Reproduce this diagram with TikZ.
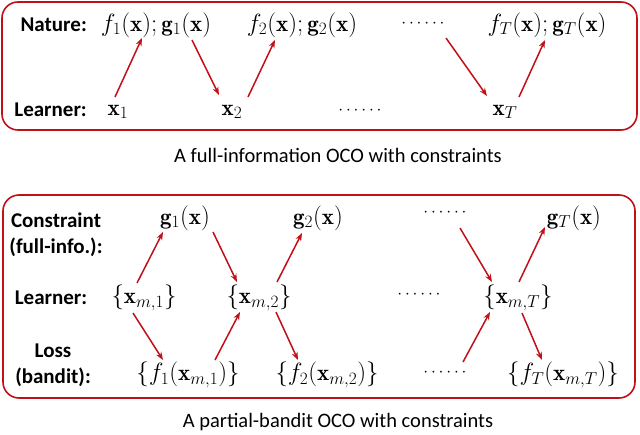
\documentclass[tikz,border=0pt]{standalone}
\usepackage{fontspec}
\setsansfont{Carlito}
\usetikzlibrary{arrows.meta}
\definecolor{dred}{RGB}{192,16,24}
\begin{document}
\begin{tikzpicture}[x=1pt,y=-1pt,
  lab/.style={font=\sffamily\bfseries\fontsize{21}{26}\selectfont, align=center, inner sep=0pt},
  captext/.style={font=\sffamily\fontsize{20.5}{24}\selectfont, inner sep=0pt},
  mathtxt/.style={font=\fontsize{23}{27}\selectfont, inner sep=0pt},
  dotstxt/.style={font=\fontsize{18}{22}\selectfont, inner sep=0pt},
  frame/.style={draw=dred, line width=1.6pt, rounded corners=16pt},
  arr/.style={draw=dred, line width=1.5pt, -{Stealth[length=8pt,width=6pt]}}]
\useasboundingbox (0,0) rectangle (640,434);
% top box
\draw[frame] (2,2) rectangle (637,130);
\node[lab, anchor=east] (nat) at (87,25) {Nature:};
\node[lab, anchor=east] (lrn) at (87,110) {Learner:};
\node[mathtxt] (fg1) at (156,25) {$f_1(\mathbf{x});\mathbf{g}_1(\mathbf{x})$};
\node[mathtxt] (fg2) at (302,25) {$f_2(\mathbf{x});\mathbf{g}_2(\mathbf{x})$};
\node[dotstxt] (tdots) at (423,24) {$\cdots\cdots$};
\node[mathtxt] (fgT) at (547,25) {$f_T(\mathbf{x});\mathbf{g}_T(\mathbf{x})$};
\node[mathtxt] (x1) at (118,112) {$\mathbf{x}_1$};
\node[mathtxt] (x2) at (232,112) {$\mathbf{x}_2$};
\node[dotstxt] (ldots) at (360,111) {$\cdots\cdots$};
\node[mathtxt] (xT) at (505,112) {$\mathbf{x}_T$};
\coordinate (a1s) at (115,97); \coordinate (a1e) at (142,38);
\coordinate (a2s) at (192,40); \coordinate (a2e) at (219,95);
\coordinate (a3s) at (248,97); \coordinate (a3e) at (275,40);
\coordinate (a4s) at (446,38); \coordinate (a4e) at (487,96);
\coordinate (a5s) at (519,97); \coordinate (a5e) at (545,40);
\draw[arr] (a1s) -- (a1e);
\draw[arr] (a2s) -- (a2e);
\draw[arr] (a3s) -- (a3e);
\draw[arr] (a4s) -- (a4e);
\draw[arr] (a5s) -- (a5e);
\node[captext] (cap1) at (338,155) {A full-information OCO with constraints};
% bottom box
\draw[frame] (3,195) rectangle (635,398);
\node[lab] (con) at (56,235) {Constraint\\(full-info.):};
\node[lab] (lrn2) at (51,298) {Learner:};
\node[lab] (loss) at (53,365) {Loss\\(bandit):};
\node[mathtxt] (g1) at (185,218) {$\mathbf{g}_1(\mathbf{x})$};
\node[mathtxt] (g2) at (318,218) {$\mathbf{g}_2(\mathbf{x})$};
\node[dotstxt] (gdots) at (445,213) {$\cdots\cdots$};
\node[mathtxt] (gT) at (574,218) {$\mathbf{g}_T(\mathbf{x})$};
\node[mathtxt] (xm1) at (144,298) {$\{\mathbf{x}_{m,1}\}$};
\node[mathtxt] (xm2) at (259,298) {$\{\mathbf{x}_{m,2}\}$};
\node[dotstxt] (xdots) at (419,295) {$\cdots\cdots$};
\node[mathtxt] (xmT) at (518,298) {$\{\mathbf{x}_{m,T}\}$};
\node[mathtxt] (f1) at (188,375) {$\{f_1(\mathbf{x}_{m,1})\}$};
\node[mathtxt] (f2) at (327,375) {$\{f_2(\mathbf{x}_{m,2})\}$};
\node[dotstxt] (fdots) at (445,373) {$\cdots\cdots$};
\node[mathtxt] (fT) at (563,375) {$\{f_T(\mathbf{x}_{m,T})\}$};
\coordinate (b1s) at (137,283); \coordinate (b1e) at (163,232);
\coordinate (b2s) at (213,232); \coordinate (b2e) at (237,282);
\coordinate (b3s) at (277,282); \coordinate (b3e) at (302,233);
\coordinate (b4s) at (133,313); \coordinate (b4e) at (163,360);
\coordinate (b5s) at (215,360); \coordinate (b5e) at (240,312);
\coordinate (b6s) at (276,312); \coordinate (b6e) at (298,360);
\coordinate (b7s) at (460,228); \coordinate (b7e) at (492,282);
\coordinate (b8s) at (519,282); \coordinate (b8e) at (545,227);
\coordinate (b9s) at (463,362); \coordinate (b9e) at (490,312);
\coordinate (b10s) at (522,313); \coordinate (b10e) at (542,360);
\foreach \i in {1,...,10} {\draw[arr] (b\i s) -- (b\i e);}
\node[captext] (cap2) at (338,422) {A partial-bandit OCO with constraints};
\end{tikzpicture}
\end{document}
